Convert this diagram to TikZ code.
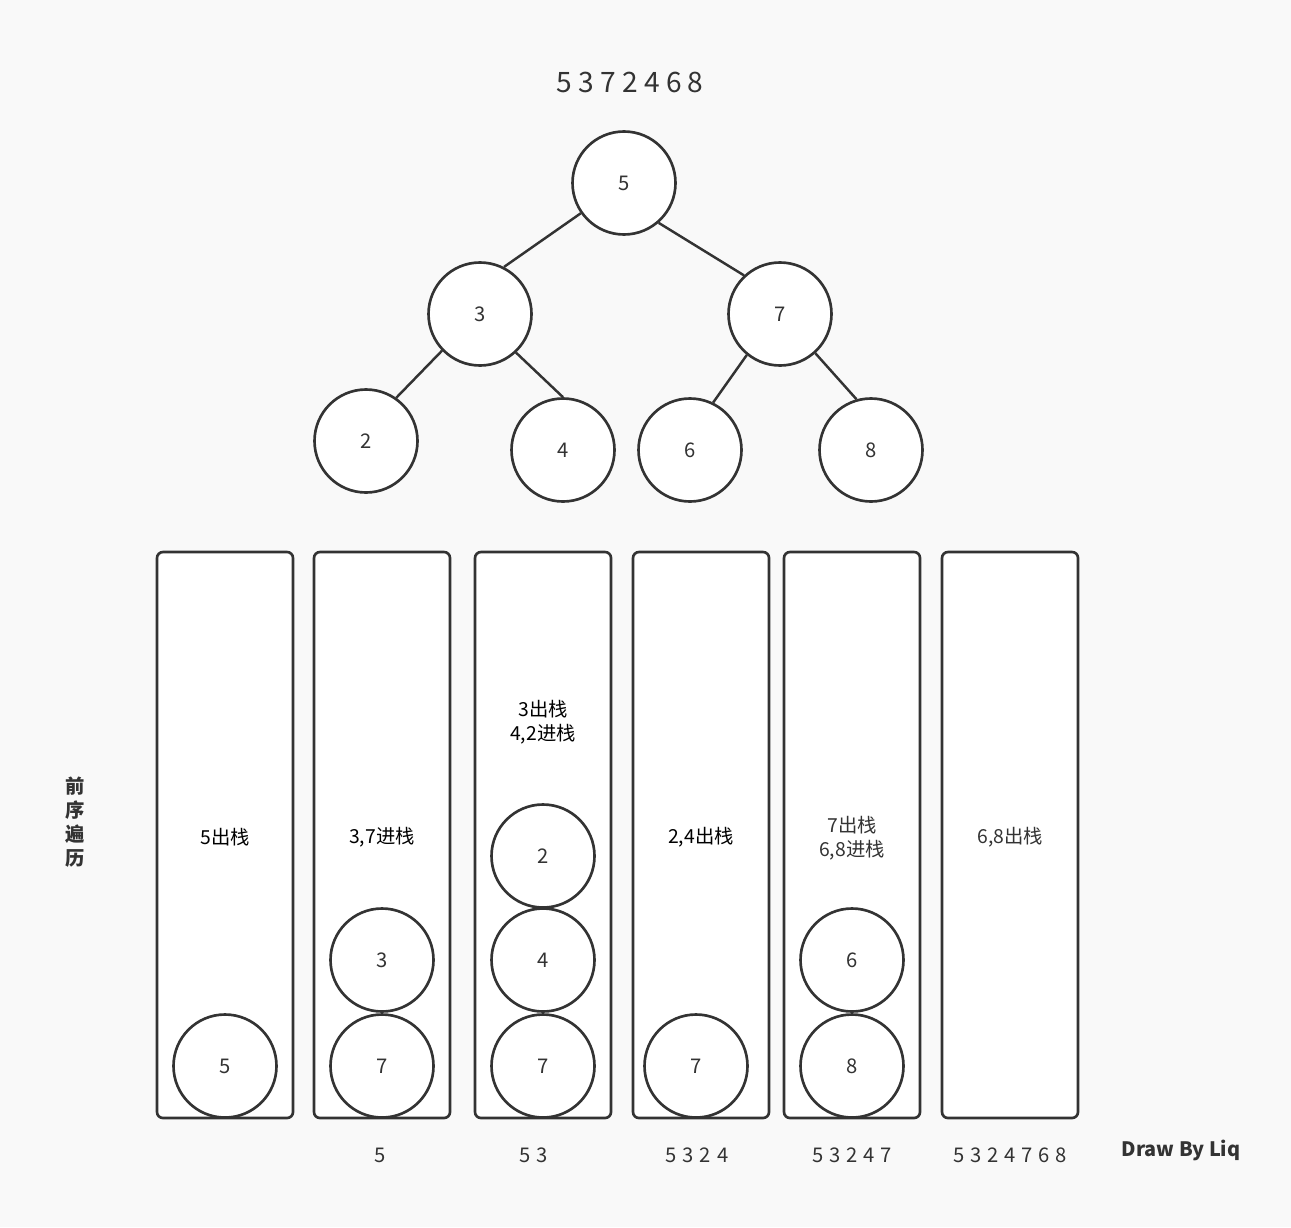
\documentclass[tikz,border=0pt]{standalone}
\usepackage{fontspec}
\setmainfont{Noto Sans CJK SC}
\newfontfamily\seqfont[WordSpace=1.3]{Noto Sans CJK SC}
\definecolor{ink}{HTML}{333333}
\definecolor{paper}{HTML}{F9F9F9}

\begin{document}
\begin{tikzpicture}[x=0.2mm, y=-0.2mm,
    ball/.style={circle, draw=ink, fill=white, line width=1.5pt, minimum size=20.6mm, inner sep=0pt, text=ink, font=\fontsize{11.5}{13}\selectfont},
    stack/.style={draw=ink, fill=white, line width=1.5pt, rounded corners=1.2mm, minimum width=27.2mm, minimum height=113.2mm, inner sep=0pt},
    link/.style={draw=ink, line width=1.4pt},
    note/.style={align=center, font=\fontsize{11}{13.5}\selectfont},
    seq/.style={text=ink, font=\seqfont\fontsize{11.5}{13}\selectfont}]
    \fill[paper] (0,0) rectangle (1291,1227);
    \useasboundingbox (0,0) rectangle (1291,1227);

    % Traversal order
    \node[text=ink, font=\fontsize{16}{18}\selectfont] (order) at (630,82) {5 3 7 2 4 6 8};

    % Tree
    \node[ball] (t5) at (624,183) {5};
    \node[ball] (t3) at (480,314) {3};
    \node[ball] (t7) at (780,314) {7};
    \node[ball] (t2) at (366,441) {2};
    \node[ball] (t4) at (563,450) {4};
    \node[ball] (t6) at (690,450) {6};
    \node[ball] (t8) at (871,450) {8};
    \draw[link] (t5.215) -- (t3.63);
    \draw[link] (t5.311) -- (t7.133);
    \draw[link] (t3.224) -- (t2.55);
    \draw[link] (t3.313) -- (t4.90);
    \draw[link] (t7.231) -- (t6.64);
    \draw[link] (t7.312) -- (t8.106);

    % Stacks
    \foreach \x/\n in {225/1, 382/2, 543/3, 701/4, 852/5, 1010/6}
        \node[stack] (s\n) at (\x,835) {};

    \node[note] (l1) at (225,837) {5出栈};
    \node[note] (l2) at (382,837) {3,7进栈};
    \node[note] (l3) at (543,722) {3出栈\\4,2进栈};
    \node[note] (l4) at (701,837) {2,4出栈};
    \node[note, text=ink] (l5) at (852,838) {7出栈\\6,8进栈};
    \node[note, text=ink] (l6) at (1010,837) {6,8出栈};

    % Stack contents
    \node[ball] (a5) at (225,1066) {5};
    \node[ball] (b3) at (382,960) {3};
    \node[ball] (b7) at (382,1066) {7};
    \node[ball] (c2) at (543,856) {2};
    \node[ball] (c4) at (543,960) {4};
    \node[ball] (c7) at (543,1066) {7};
    \node[ball] (d7) at (696,1066) {7};
    \node[ball] (e6) at (852,960) {6};
    \node[ball] (e8) at (852,1066) {8};

    % Output so far
    \node[seq] (o2) at (380,1155) {5};
    \node[seq] (o3) at (534,1155) {5 3};
    \node[seq] (o4) at (697,1155) {5 3 2 4};
    \node[seq] (o5) at (852,1155) {5 3 2 4 7};
    \node[seq] (o6) at (1010,1155) {5 3 2 4 7 6 8};

    \node[text=ink, align=center, font=\bfseries\fontsize{11}{13.6}\selectfont] (title) at (75,822) {前\\序\\遍\\历};
    \node[text=ink, font=\bfseries\fontsize{11.3}{13}\selectfont] (sign) at (1181,1150) {Draw By Liq};
\end{tikzpicture}
\end{document}
